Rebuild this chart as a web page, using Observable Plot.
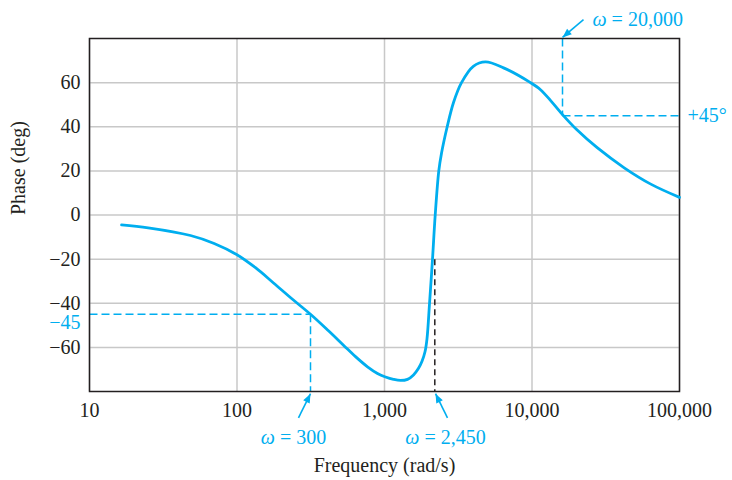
<!DOCTYPE html>
<html><head><meta charset="utf-8">
<script src="https://cdn.jsdelivr.net/npm/d3@7"></script>
<script src="https://cdn.jsdelivr.net/npm/@observablehq/plot@0.6"></script>
<style>body{margin:0;background:#fff} svg{display:block}</style>
</head><body><div id="chart"></div>
<script>
// Phase curve (frequency in rad/s, phase in degrees)
const omega = [16.5, 25, 48.4, 70, 100, 133.5, 176.8, 237.8, 315, 417, 527, 636, 767, 896, 1016, 1151, 1284, 1432, 1573, 1701, 1796, 1882, 1942, 2020, 2116, 2207, 2334, 2435, 2661, 2937, 3327, 4000, 4839, 6411, 9768, 11420, 13560, 16100, 20160, 27670, 42190, 63890, 100000];
const phase = [-4.5, -5.8, -9.3, -12.9, -18, -23.9, -30.8, -38.2, -45, -52.5, -59, -64.2, -68.8, -71.8, -73.4, -74.5, -75, -74.5, -72.5, -69.5, -66.3, -62, -56, -40, -20, 0, 20, 28, 40, 51, 60, 67.4, 69.4, 66.7, 60, 56.8, 51.4, 45.5, 38.6, 30.5, 21.4, 14, 8];

const xTicks = [10, 100, 1000, 10000, 100000];
const xTickLabels = ["10", "100", "1,000", "10,000", "100,000"];
const yTicks = [-60, -40, -20, 0, 20, 40, 60];

// Marked frequencies (as positioned on the picture) and their labels
const markNames = ["ω = 300", "ω = 2,450", "ω = 20,000"];
const markOmega = [315, 2193, 16100];
const labelOmega = [241.6, 2594, 22340];
const labelPhase = [-101, -101, 88.6];
const arrowFromOmega = [261, 2673, 22340];
const arrowFromPhase = [-92, -92, 88.6];
const arrowToOmega = [315, 2218, 16100];
const arrowToPhase = [-81, -81, 80.5];

const CYAN = "#00aeef";
const INK = "#231f20";
const FONT = "'Liberation Serif', 'Times New Roman', serif";

const curve = omega.map((w, i) => ({w, p: phase[i]}));
const arrows = markNames.map((n, i) => ({x1: arrowFromOmega[i], y1: arrowFromPhase[i], x2: arrowToOmega[i], y2: arrowToPhase[i]}));
const labels = markNames.map((n, i) => ({x: labelOmega[i], y: labelPhase[i], t: n}));
const guides = [
  {x1: 10, x2: markOmega[0], y1: -45, y2: -45},
  {x1: markOmega[0], x2: markOmega[0], y1: -45, y2: -80},
  {x1: markOmega[2], x2: markOmega[2], y1: 80, y2: 45},
  {x1: markOmega[2], x2: 100000, y1: 45, y2: 45}
];
const blackGuide = [{x1: markOmega[1], x2: markOmega[1], y1: -20, y2: -80}];

const chart = Plot.plot({
  width: 732,
  height: 480,
  marginLeft: 89,
  marginRight: 53,
  marginTop: 38,
  marginBottom: 89,
  style: {fontFamily: FONT, fontSize: "20px", background: "#fff"},
  x: {type: "log", domain: [10, 100000]},
  y: {domain: [-80, 80]},
  marks: [
    Plot.gridX(xTicks, {stroke: "#c8c8c8", strokeOpacity: 1, strokeWidth: 1.5}),
    Plot.gridY(yTicks, {stroke: "#c8c8c8", strokeOpacity: 1, strokeWidth: 1.5}),
    Plot.axisX({ticks: xTicks, tickFormat: (d) => xTickLabels[xTicks.indexOf(d)], tickSize: 0, tickPadding: 11, fontSize: 20, fill: INK, label: null}),
    Plot.axisY({ticks: yTicks, tickSize: 0, tickPadding: 9, fontSize: 20, fill: INK, label: null}),
    Plot.link(guides, {x1: "x1", y1: "y1", x2: "x2", y2: "y2", stroke: CYAN, strokeWidth: 1.5, strokeDasharray: "8,4"}),
    Plot.link(blackGuide, {x1: "x1", y1: "y1", x2: "x2", y2: "y2", stroke: INK, strokeWidth: 1.5, strokeDasharray: "6,4"}),
    Plot.frame({stroke: INK, strokeWidth: 1.5}),
    Plot.line(curve, {x: "w", y: "p", stroke: CYAN, strokeWidth: 2.8, curve: "catmull-rom"}),
    Plot.link(arrows, {x1: "x1", y1: "y1", x2: "x2", y2: "y2", stroke: CYAN, strokeWidth: 1.6, markerEnd: "arrow"}),
    Plot.text(labels.slice(0, 2), {x: "x", y: "y", text: "t", fill: CYAN, fontSize: 20, textAnchor: "middle"}),
    Plot.text(labels.slice(2), {x: "x", y: "y", text: "t", fill: CYAN, fontSize: 20, textAnchor: "start", dx: 9}),
    Plot.text(["+45°"], {x: 100000, y: 45, text: d => d, fill: CYAN, fontSize: 20, textAnchor: "start", dx: 8}),
    Plot.text(["−45"], {x: 10, y: -45, text: d => d, fill: CYAN, fontSize: 20, textAnchor: "end", dx: -9, dy: 8}),
    Plot.text(["Phase (deg)"], {frameAnchor: "left", text: d => d, rotate: -90, dx: -71, fill: INK, fontSize: 20, lineAnchor: "middle"}),
    Plot.text(["Frequency (rad/s)"], {frameAnchor: "bottom", text: d => d, dy: 74, fill: INK, fontSize: 20, lineAnchor: "middle"})
  ]
});

// Filled arrowheads like the reference
chart.querySelectorAll("marker").forEach(m => {
  m.setAttribute("viewBox", "-10 -5 10 10");
  m.setAttribute("markerWidth", "14");
  m.setAttribute("markerHeight", "14");
  m.setAttribute("markerUnits", "userSpaceOnUse");
  m.setAttribute("refX", "0");
  m.setAttribute("refY", "0");
  m.setAttribute("fill", CYAN);
  m.setAttribute("stroke", "none");
  m.innerHTML = "";
  const p = document.createElementNS("http://www.w3.org/2000/svg", "path");
  p.setAttribute("d", "M-6.5,-2.6L0,0L-6.5,2.6Z");
  p.setAttribute("fill", CYAN);
  p.setAttribute("stroke", "none");
  m.appendChild(p);
});

// Italic omega, as in the reference
chart.querySelectorAll("text").forEach(t => {
  const s = t.textContent;
  if (s.startsWith("ω") && t.children.length === 0) {
    t.textContent = "";
    const a = document.createElementNS("http://www.w3.org/2000/svg", "tspan");
    a.setAttribute("font-style", "italic");
    a.textContent = "ω";
    t.appendChild(a);
    t.appendChild(document.createTextNode(s.slice(1)));
  }
});
document.getElementById("chart").appendChild(chart);
</script>
</body></html>
